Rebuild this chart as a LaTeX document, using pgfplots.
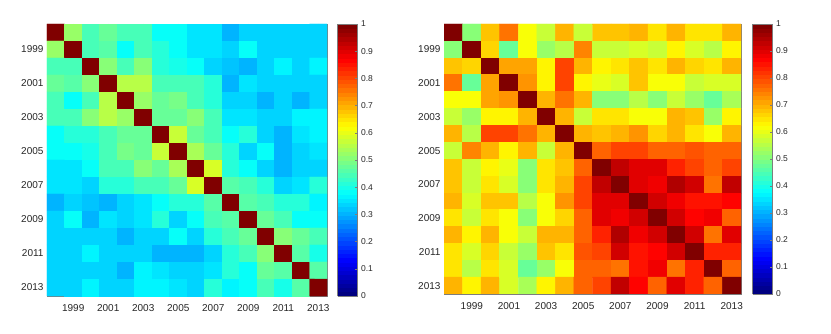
\documentclass[border=0pt]{standalone}
\usepackage{fontspec}
\setmainfont{Liberation Sans}
\usepackage{pgfplots}
\pgfplotsset{compat=1.18}
\definecolor{axgray}{RGB}{125,125,125}
\definecolor{txtgray}{RGB}{38,38,38}
\pgfplotsset{colormap/jet}
\pgfplotsset{colormap={jetsixtyfour}{samples of colormap={64 of jet}}}
\pgfplotsset{hm/.style={
  scale only axis, anchor=south west,
  y dir=reverse, xmin=1997.5, xmax=2013.5, ymin=1997.5, ymax=2013.5,
  xtick={1999,2001,...,2013}, ytick={1999,2001,...,2013},
  /pgf/number format/1000 sep={}, /pgf/number format/assume math mode=true,
  tick label style={font=\fontsize{10}{12}\selectfont, text=txtgray},
  xticklabel style={yshift=-5pt},
  axis line style={axgray}, tick style={axgray}, major tick length=3pt,
  tick align=inside,
  colormap name=jetsixtyfour, colormap access=piecewise constant,
  point meta min=0, point meta max=1,
  colorbar,
  colorbar style={at={(parent axis.north east)}, anchor=north west, width=20pt,
    ytick={0,0.1,0.2,0.3,0.4,0.5,0.6,0.7,0.8,0.9,1},
    yticklabel style={font=\fontsize{8.5}{10}\selectfont, text=txtgray},
    /pgf/number format/assume math mode=true,
    axis line style={axgray}, tick style={axgray}, major tick length=3pt,
    ytick pos=right, tick align=inside},
}}
\begin{document}
\begin{tikzpicture}
\useasboundingbox (0,0) rectangle (831pt,334pt);
\begin{axis}[hm, at={(47pt,38pt)}, width=280pt, height=272pt, colorbar style={xshift=2pt}]
\addplot[matrix plot*, mesh/cols=16, point meta=explicit] table[meta=z, row sep=\\] {
x y z\\
1998 1998 1\\ 1999 1998 0.52\\ 2000 1998 0.44\\ 2001 1998 0.48\\ 2002 1998 0.44\\ 2003 1998 0.45\\ 2004 1998 0.38\\ 2005 1998 0.38\\ 2006 1998 0.35\\ 2007 1998 0.35\\ 2008 1998 0.31\\ 2009 1998 0.33\\ 2010 1998 0.33\\ 2011 1998 0.33\\ 2012 1998 0.33\\ 2013 1998 0.33\\
1998 1999 0.52\\ 1999 1999 1\\ 2000 1999 0.44\\ 2001 1999 0.46\\ 2002 1999 0.38\\ 2003 1999 0.44\\ 2004 1999 0.41\\ 2005 1999 0.38\\ 2006 1999 0.35\\ 2007 1999 0.35\\ 2008 1999 0.34\\ 2009 1999 0.38\\ 2010 1999 0.33\\ 2011 1999 0.33\\ 2012 1999 0.33\\ 2013 1999 0.34\\
1998 2000 0.44\\ 1999 2000 0.44\\ 2000 2000 1\\ 2001 2000 0.51\\ 2002 2000 0.45\\ 2003 2000 0.51\\ 2004 2000 0.42\\ 2005 2000 0.40\\ 2006 2000 0.38\\ 2007 2000 0.33\\ 2008 2000 0.32\\ 2009 2000 0.31\\ 2010 2000 0.33\\ 2011 2000 0.37\\ 2012 2000 0.33\\ 2013 2000 0.36\\
1998 2001 0.48\\ 1999 2001 0.46\\ 2000 2001 0.51\\ 2001 2001 1\\ 2002 2001 0.56\\ 2003 2001 0.56\\ 2004 2001 0.45\\ 2005 2001 0.45\\ 2006 2001 0.44\\ 2007 2001 0.42\\ 2008 2001 0.31\\ 2009 2001 0.35\\ 2010 2001 0.34\\ 2011 2001 0.34\\ 2012 2001 0.33\\ 2013 2001 0.34\\
1998 2002 0.44\\ 1999 2002 0.38\\ 2000 2002 0.45\\ 2001 2002 0.56\\ 2002 2002 1\\ 2003 2002 0.53\\ 2004 2002 0.48\\ 2005 2002 0.49\\ 2006 2002 0.45\\ 2007 2002 0.42\\ 2008 2002 0.33\\ 2009 2002 0.33\\ 2010 2002 0.31\\ 2011 2002 0.33\\ 2012 2002 0.31\\ 2013 2002 0.33\\
1998 2003 0.45\\ 1999 2003 0.44\\ 2000 2003 0.51\\ 2001 2003 0.56\\ 2002 2003 0.53\\ 2003 2003 1\\ 2004 2003 0.48\\ 2005 2003 0.47\\ 2006 2003 0.51\\ 2007 2003 0.44\\ 2008 2003 0.35\\ 2009 2003 0.35\\ 2010 2003 0.34\\ 2011 2003 0.33\\ 2012 2003 0.37\\ 2013 2003 0.37\\
1998 2004 0.38\\ 1999 2004 0.41\\ 2000 2004 0.42\\ 2001 2004 0.45\\ 2002 2004 0.48\\ 2003 2004 0.48\\ 2004 2004 1\\ 2005 2004 0.57\\ 2006 2004 0.48\\ 2007 2004 0.44\\ 2008 2004 0.38\\ 2009 2004 0.41\\ 2010 2004 0.33\\ 2011 2004 0.30\\ 2012 2004 0.35\\ 2013 2004 0.36\\
1998 2005 0.38\\ 1999 2005 0.38\\ 2000 2005 0.40\\ 2001 2005 0.45\\ 2002 2005 0.49\\ 2003 2005 0.47\\ 2004 2005 0.57\\ 2005 2005 1\\ 2006 2005 0.54\\ 2007 2005 0.48\\ 2008 2005 0.42\\ 2009 2005 0.34\\ 2010 2005 0.38\\ 2011 2005 0.31\\ 2012 2005 0.34\\ 2013 2005 0.35\\
1998 2006 0.35\\ 1999 2006 0.35\\ 2000 2006 0.38\\ 2001 2006 0.44\\ 2002 2006 0.45\\ 2003 2006 0.51\\ 2004 2006 0.48\\ 2005 2006 0.54\\ 2006 2006 1\\ 2007 2006 0.58\\ 2008 2006 0.42\\ 2009 2006 0.38\\ 2010 2006 0.34\\ 2011 2006 0.31\\ 2012 2006 0.33\\ 2013 2006 0.33\\
1998 2007 0.35\\ 1999 2007 0.35\\ 2000 2007 0.33\\ 2001 2007 0.42\\ 2002 2007 0.42\\ 2003 2007 0.44\\ 2004 2007 0.44\\ 2005 2007 0.48\\ 2006 2007 0.58\\ 2007 2007 1\\ 2008 2007 0.46\\ 2009 2007 0.44\\ 2010 2007 0.41\\ 2011 2007 0.33\\ 2012 2007 0.35\\ 2013 2007 0.41\\
1998 2008 0.31\\ 1999 2008 0.34\\ 2000 2008 0.32\\ 2001 2008 0.31\\ 2002 2008 0.33\\ 2003 2008 0.35\\ 2004 2008 0.38\\ 2005 2008 0.42\\ 2006 2008 0.42\\ 2007 2008 0.46\\ 2008 2008 1\\ 2009 2008 0.46\\ 2010 2008 0.44\\ 2011 2008 0.41\\ 2012 2008 0.41\\ 2013 2008 0.37\\
1998 2009 0.33\\ 1999 2009 0.38\\ 2000 2009 0.31\\ 2001 2009 0.35\\ 2002 2009 0.33\\ 2003 2009 0.35\\ 2004 2009 0.41\\ 2005 2009 0.34\\ 2006 2009 0.38\\ 2007 2009 0.44\\ 2008 2009 0.46\\ 2009 2009 1\\ 2010 2009 0.48\\ 2011 2009 0.45\\ 2012 2009 0.38\\ 2013 2009 0.39\\
1998 2010 0.33\\ 1999 2010 0.33\\ 2000 2010 0.33\\ 2001 2010 0.34\\ 2002 2010 0.31\\ 2003 2010 0.34\\ 2004 2010 0.33\\ 2005 2010 0.38\\ 2006 2010 0.34\\ 2007 2010 0.41\\ 2008 2010 0.44\\ 2009 2010 0.48\\ 2010 2010 1\\ 2011 2010 0.50\\ 2012 2010 0.48\\ 2013 2010 0.45\\
1998 2011 0.33\\ 1999 2011 0.33\\ 2000 2011 0.37\\ 2001 2011 0.34\\ 2002 2011 0.33\\ 2003 2011 0.33\\ 2004 2011 0.30\\ 2005 2011 0.31\\ 2006 2011 0.31\\ 2007 2011 0.33\\ 2008 2011 0.41\\ 2009 2011 0.45\\ 2010 2011 0.50\\ 2011 2011 1\\ 2012 2011 0.46\\ 2013 2011 0.40\\
1998 2012 0.33\\ 1999 2012 0.33\\ 2000 2012 0.33\\ 2001 2012 0.33\\ 2002 2012 0.31\\ 2003 2012 0.37\\ 2004 2012 0.35\\ 2005 2012 0.34\\ 2006 2012 0.33\\ 2007 2012 0.35\\ 2008 2012 0.41\\ 2009 2012 0.38\\ 2010 2012 0.48\\ 2011 2012 0.46\\ 2012 2012 1\\ 2013 2012 0.46\\
1998 2013 0.33\\ 1999 2013 0.34\\ 2000 2013 0.36\\ 2001 2013 0.34\\ 2002 2013 0.33\\ 2003 2013 0.37\\ 2004 2013 0.36\\ 2005 2013 0.35\\ 2006 2013 0.33\\ 2007 2013 0.41\\ 2008 2013 0.37\\ 2009 2013 0.39\\ 2010 2013 0.45\\ 2011 2013 0.40\\ 2012 2013 0.46\\ 2013 2013 1\\
};
\end{axis}
\begin{axis}[hm, at={(444pt,40pt)}, width=297pt, height=270pt, colorbar style={xshift=3pt}]
\addplot[matrix plot*, mesh/cols=16, point meta=explicit] table[meta=z, row sep=\\] {
x y z\\
1998 1998 1\\ 1999 1998 0.51\\ 2000 1998 0.675\\ 2001 1998 0.76\\ 2002 1998 0.61\\ 2003 1998 0.57\\ 2004 1998 0.70\\ 2005 1998 0.57\\ 2006 1998 0.675\\ 2007 1998 0.675\\ 2008 1998 0.70\\ 2009 1998 0.65\\ 2010 1998 0.70\\ 2011 1998 0.65\\ 2012 1998 0.65\\ 2013 1998 0.70\\
1998 1999 0.51\\ 1999 1999 1\\ 2000 1999 0.66\\ 2001 1999 0.48\\ 2002 1999 0.61\\ 2003 1999 0.53\\ 2004 1999 0.56\\ 2005 1999 0.74\\ 2006 1999 0.57\\ 2007 1999 0.57\\ 2008 1999 0.59\\ 2009 1999 0.57\\ 2010 1999 0.625\\ 2011 1999 0.59\\ 2012 1999 0.56\\ 2013 1999 0.625\\
1998 2000 0.675\\ 1999 2000 0.66\\ 2000 2000 1\\ 2001 2000 0.71\\ 2002 2000 0.71\\ 2003 2000 0.625\\ 2004 2000 0.81\\ 2005 2000 0.70\\ 2006 2000 0.625\\ 2007 2000 0.65\\ 2008 2000 0.675\\ 2009 2000 0.65\\ 2010 2000 0.70\\ 2011 2000 0.67\\ 2012 2000 0.65\\ 2013 2000 0.69\\
1998 2001 0.76\\ 1999 2001 0.48\\ 2000 2001 0.71\\ 2001 2001 1\\ 2002 2001 0.72\\ 2003 2001 0.625\\ 2004 2001 0.81\\ 2005 2001 0.625\\ 2006 2001 0.60\\ 2007 2001 0.59\\ 2008 2001 0.675\\ 2009 2001 0.61\\ 2010 2001 0.61\\ 2011 2001 0.57\\ 2012 2001 0.59\\ 2013 2001 0.59\\
1998 2002 0.61\\ 1999 2002 0.61\\ 2000 2002 0.71\\ 2001 2002 0.72\\ 2002 2002 1\\ 2003 2002 0.69\\ 2004 2002 0.75\\ 2005 2002 0.69\\ 2006 2002 0.51\\ 2007 2002 0.51\\ 2008 2002 0.55\\ 2009 2002 0.51\\ 2010 2002 0.57\\ 2011 2002 0.53\\ 2012 2002 0.48\\ 2013 2002 0.54\\
1998 2003 0.57\\ 1999 2003 0.53\\ 2000 2003 0.625\\ 2001 2003 0.625\\ 2002 2003 0.69\\ 2003 2003 1\\ 2004 2003 0.70\\ 2005 2003 0.57\\ 2006 2003 0.65\\ 2007 2003 0.65\\ 2008 2003 0.61\\ 2009 2003 0.61\\ 2010 2003 0.70\\ 2011 2003 0.675\\ 2012 2003 0.53\\ 2013 2003 0.625\\
1998 2004 0.70\\ 1999 2004 0.56\\ 2000 2004 0.81\\ 2001 2004 0.81\\ 2002 2004 0.75\\ 2003 2004 0.70\\ 2004 2004 1\\ 2005 2004 0.70\\ 2006 2004 0.675\\ 2007 2004 0.70\\ 2008 2004 0.72\\ 2009 2004 0.66\\ 2010 2004 0.70\\ 2011 2004 0.65\\ 2012 2004 0.61\\ 2013 2004 0.70\\
1998 2005 0.57\\ 1999 2005 0.74\\ 2000 2005 0.70\\ 2001 2005 0.625\\ 2002 2005 0.69\\ 2003 2005 0.57\\ 2004 2005 0.70\\ 2005 2005 1\\ 2006 2005 0.78\\ 2007 2005 0.81\\ 2008 2005 0.81\\ 2009 2005 0.77\\ 2010 2005 0.78\\ 2011 2005 0.79\\ 2012 2005 0.77\\ 2013 2005 0.77\\
1998 2006 0.675\\ 1999 2006 0.57\\ 2000 2006 0.625\\ 2001 2006 0.60\\ 2002 2006 0.51\\ 2003 2006 0.65\\ 2004 2006 0.675\\ 2005 2006 0.78\\ 2006 2006 1\\ 2007 2006 0.925\\ 2008 2006 0.90\\ 2009 2006 0.90\\ 2010 2006 0.83\\ 2011 2006 0.80\\ 2012 2006 0.78\\ 2013 2006 0.81\\
1998 2007 0.675\\ 1999 2007 0.57\\ 2000 2007 0.65\\ 2001 2007 0.59\\ 2002 2007 0.51\\ 2003 2007 0.65\\ 2004 2007 0.70\\ 2005 2007 0.81\\ 2006 2007 0.925\\ 2007 2007 1\\ 2008 2007 0.90\\ 2009 2007 0.875\\ 2010 2007 0.94\\ 2011 2007 0.91\\ 2012 2007 0.76\\ 2013 2007 0.925\\
1998 2008 0.70\\ 1999 2008 0.59\\ 2000 2008 0.675\\ 2001 2008 0.675\\ 2002 2008 0.55\\ 2003 2008 0.61\\ 2004 2008 0.72\\ 2005 2008 0.81\\ 2006 2008 0.90\\ 2007 2008 0.90\\ 2008 2008 1\\ 2009 2008 0.91\\ 2010 2008 0.875\\ 2011 2008 0.85\\ 2012 2008 0.85\\ 2013 2008 0.86\\
1998 2009 0.65\\ 1999 2009 0.57\\ 2000 2009 0.65\\ 2001 2009 0.61\\ 2002 2009 0.51\\ 2003 2009 0.61\\ 2004 2009 0.66\\ 2005 2009 0.77\\ 2006 2009 0.90\\ 2007 2009 0.875\\ 2008 2009 0.91\\ 2009 2009 1\\ 2010 2009 0.91\\ 2011 2009 0.86\\ 2012 2009 0.875\\ 2013 2009 0.78\\
1998 2010 0.70\\ 1999 2010 0.625\\ 2000 2010 0.70\\ 2001 2010 0.61\\ 2002 2010 0.57\\ 2003 2010 0.70\\ 2004 2010 0.70\\ 2005 2010 0.78\\ 2006 2010 0.83\\ 2007 2010 0.94\\ 2008 2010 0.875\\ 2009 2010 0.91\\ 2010 2010 1\\ 2011 2010 0.91\\ 2012 2010 0.76\\ 2013 2010 0.90\\
1998 2011 0.65\\ 1999 2011 0.59\\ 2000 2011 0.67\\ 2001 2011 0.57\\ 2002 2011 0.53\\ 2003 2011 0.675\\ 2004 2011 0.65\\ 2005 2011 0.79\\ 2006 2011 0.80\\ 2007 2011 0.91\\ 2008 2011 0.85\\ 2009 2011 0.86\\ 2010 2011 0.91\\ 2011 2011 1\\ 2012 2011 0.83\\ 2013 2011 0.83\\
1998 2012 0.65\\ 1999 2012 0.56\\ 2000 2012 0.65\\ 2001 2012 0.59\\ 2002 2012 0.48\\ 2003 2012 0.53\\ 2004 2012 0.61\\ 2005 2012 0.77\\ 2006 2012 0.78\\ 2007 2012 0.76\\ 2008 2012 0.85\\ 2009 2012 0.875\\ 2010 2012 0.76\\ 2011 2012 0.83\\ 2012 2012 1\\ 2013 2012 0.78\\
1998 2013 0.70\\ 1999 2013 0.625\\ 2000 2013 0.69\\ 2001 2013 0.59\\ 2002 2013 0.54\\ 2003 2013 0.625\\ 2004 2013 0.70\\ 2005 2013 0.77\\ 2006 2013 0.81\\ 2007 2013 0.925\\ 2008 2013 0.86\\ 2009 2013 0.78\\ 2010 2013 0.90\\ 2011 2013 0.83\\ 2012 2013 0.78\\ 2013 2013 1\\
};
\end{axis}
\end{tikzpicture}
\end{document}
